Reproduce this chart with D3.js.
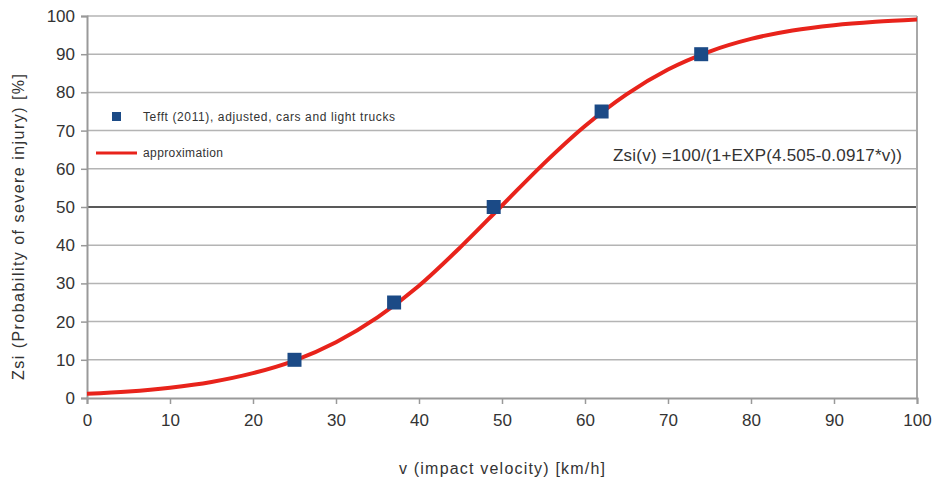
<!DOCTYPE html>
<html>
<head>
<meta charset="utf-8">
<script src="https://cdn.jsdelivr.net/npm/d3@7"></script>
<style>
  body { margin: 0; background: #fff; }
  text { font-family: "Liberation Sans", Arial, sans-serif; fill: #333; }
</style>
</head>
<body>
<div id="chart"></div>
<script>
// measured points (Tefft 2011, adjusted)
var pointV = [25, 37, 49, 62, 74];
var pointZ = [10, 25, 50, 75, 90];

// approximation curve, every 5 km/h
var curveV = [0, 5, 10, 15, 20, 25, 30, 35, 40, 45, 50, 55, 60, 65, 70, 75, 80, 85, 90, 95, 100];
var curveZ = [1.1, 1.7, 2.7, 4.2, 6.5, 9.8, 14.6, 21.1, 29.4, 39.5, 50.4, 61.3, 71.2, 79.5, 86.0, 90.7, 94.0, 96.2, 97.6, 98.5, 99.1];

var xTicks = [0, 10, 20, 30, 40, 50, 60, 70, 80, 90, 100];
var yTicks = [0, 10, 20, 30, 40, 50, 60, 70, 80, 90, 100];

var margin = { top: 16, right: 21, bottom: 85, left: 87 },
  width = 938 - margin.left - margin.right,
  height = 483 - margin.top - margin.bottom;

var svg = d3.select("#chart").append("svg")
  .attr("width", 938)
  .attr("height", 483)
  .append("g")
  .attr("transform", "translate(" + margin.left + "," + margin.top + ")");

var x = d3.scaleLinear().domain([0, 100]).range([0, width]);
var y = d3.scaleLinear().domain([0, 100]).range([height, 0]);

// horizontal grid
svg.append("g").selectAll("line")
  .data(yTicks.filter(function (d) { return d > 0; }))
  .enter().append("line")
  .attr("x1", 0).attr("x2", width)
  .attr("y1", function (d) { return y(d); })
  .attr("y2", function (d) { return y(d); })
  .attr("stroke", function (d) { return d == 50 ? "#222" : "#b4b4b4"; })
  .attr("stroke-width", 1.5);

// right border
svg.append("line")
  .attr("x1", width).attr("x2", width)
  .attr("y1", 0).attr("y2", height)
  .attr("stroke", "#a8a8a8").attr("stroke-width", 2);

// y axis
var yAxis = svg.append("g")
  .call(d3.axisLeft(y).tickValues(yTicks).tickSize(6).tickPadding(6));
yAxis.select(".domain").attr("stroke", "#999").attr("stroke-width", 2);
yAxis.selectAll(".tick line").attr("stroke", "#999").attr("stroke-width", 1.5);
yAxis.selectAll("text").style("font-size", "17px").attr("fill", "#2a2a2a");

// x axis
var xAxis = svg.append("g")
  .attr("transform", "translate(0," + height + ")")
  .call(d3.axisBottom(x).tickValues(xTicks).tickSize(6).tickPadding(10));
xAxis.select(".domain").attr("stroke", "#999").attr("stroke-width", 2);
xAxis.selectAll(".tick line").attr("stroke", "#999").attr("stroke-width", 1.5);
xAxis.selectAll("text").style("font-size", "17px").attr("fill", "#2a2a2a");

// approximation curve
var line = d3.line()
  .x(function (d, i) { return x(curveV[i]); })
  .y(function (d) { return y(d); })
  .curve(d3.curveMonotoneX);

svg.append("path")
  .datum(curveZ)
  .attr("d", line)
  .attr("fill", "none")
  .attr("stroke", "#e8231b")
  .attr("stroke-width", 4);

// data points
var sq = 14;
svg.selectAll(".pt")
  .data(pointZ)
  .enter().append("rect")
  .attr("class", "pt")
  .attr("x", function (d, i) { return x(pointV[i]) - sq / 2; })
  .attr("y", function (d) { return y(d) - sq / 2; })
  .attr("width", sq).attr("height", sq)
  .attr("fill", "#1b4a86");

// legend
var lg = svg.append("g");
lg.append("rect")
  .attr("x", 25).attr("y", 96).attr("width", 9).attr("height", 9)
  .attr("fill", "#1b4a86");
lg.append("text")
  .attr("x", 56).attr("y", 105)
  .style("font-size", "12px")
  .attr("textLength", 252)
  .text("Tefft (2011), adjusted, cars and light trucks");
lg.append("line")
  .attr("x1", 9).attr("x2", 50).attr("y1", 137).attr("y2", 137)
  .attr("stroke", "#e8231b").attr("stroke-width", 3);
lg.append("text")
  .attr("x", 56).attr("y", 141)
  .style("font-size", "12px")
  .attr("textLength", 80)
  .text("approximation");

// formula
svg.append("text")
  .attr("x", 526).attr("y", 145)
  .attr("textLength", 289)
  .style("font-size", "17px")
  .text("Zsi(v) =100/(1+EXP(4.505-0.0917*v))");

// axis titles
svg.append("text")
  .attr("x", width / 2).attr("y", height + 76)
  .attr("text-anchor", "middle")
  .style("font-size", "16px")
  .attr("textLength", 206)
  .text("v (impact velocity) [km/h]");

svg.append("text")
  .attr("transform", "translate(-63," + (height / 2 + 20) + ") rotate(-90)")
  .attr("text-anchor", "middle")
  .style("font-size", "16px")
  .attr("textLength", 306)
  .text("Zsi (Probability of severe injury) [%]");
</script>
</body>
</html>
